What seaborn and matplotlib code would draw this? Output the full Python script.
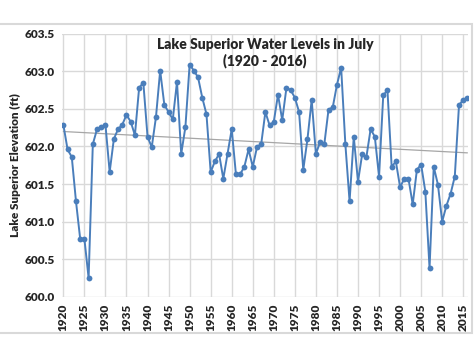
import numpy as np
import pandas as pd
import matplotlib
matplotlib.use("Agg")
import matplotlib.pyplot as plt
from matplotlib.patches import Rectangle
import seaborn as sns

# July water levels
years = list(range(1920, 2017))
levels = [
    602.29, 601.96, 601.86, 601.27, 600.77, 600.77, 600.25, 602.03, 602.23, 602.26,
    602.29, 601.66, 602.10, 602.23, 602.29, 602.42, 602.33, 602.15, 602.78, 602.85,
    602.13, 601.99, 602.39, 603.01, 602.55, 602.46, 602.36, 602.86, 601.90, 602.26,
    603.09, 603.01, 602.92, 602.65, 602.43, 601.66, 601.80, 601.90, 601.57, 601.90,
    602.23, 601.63, 601.63, 601.73, 601.96, 601.73, 601.99, 602.03, 602.46, 602.28,
    602.33, 602.69, 602.35, 602.78, 602.75, 602.65, 602.46, 601.69, 602.10, 602.62,
    601.90, 602.06, 602.03, 602.49, 602.52, 602.82, 603.05, 602.03, 601.27, 602.13,
    601.53, 601.90, 601.86, 602.23, 602.13, 601.60, 602.68, 602.75, 601.73, 601.80,
    601.46, 601.57, 601.57, 601.23, 601.69, 601.76, 601.40, 600.38, 601.73, 601.49,
    601.00, 601.21, 601.37, 601.60, 602.55, 602.62, 602.65,
]
x_ticks = list(range(1920, 2016, 5))
y_ticks = [600.0, 600.5, 601.0, 601.5, 602.0, 602.5, 603.0, 603.5]

df = pd.DataFrame({"Year": years, "Level": levels})

sns.set_style("white")
plt.rcParams["font.family"] = ["Lato", "DejaVu Sans"]

fig = plt.figure(figsize=(4.74, 3.55), dpi=100)
ax = fig.add_axes([0.131, 0.164, 0.856, 0.741])

# chart frame
fig.patches.append(Rectangle((-0.01, 0.062), 1.006, 0.870, transform=fig.transFigure,
                             fill=False, edgecolor="#d9d9d9", linewidth=1.5))

# linear trend line (Excel style)
coef = np.polyfit(df["Year"], df["Level"], 1)
ax.plot(df["Year"], np.polyval(coef, df["Year"]), color="#a6a6a6", linewidth=0.9, zorder=2)

sns.lineplot(data=df, x="Year", y="Level", ax=ax, color="#4a7ebb", linewidth=1.4,
             marker="o", markersize=4.2, markeredgewidth=0, zorder=3)

ax.set_xlim(1919.7, 2016.1)
ax.set_ylim(600.0, 603.5)
ax.set_xticks(x_ticks)
ax.set_yticks(y_ticks)
ax.set_xticklabels([str(t) for t in x_ticks], rotation=90, fontsize=8.5, fontweight="heavy")
ax.set_yticklabels([f"{t:.1f}" for t in y_ticks], fontsize=8.5, fontweight="heavy")
ax.grid(True, color="#d9d9d9", linewidth=1)
ax.tick_params(axis="both", length=3, color="#d9d9d9", pad=2)
for s in ax.spines.values():
    s.set_visible(False)

ax.set_xlabel("")
ax.set_ylabel("Lake Superior Elevation (ft)", fontsize=8.5, fontweight="heavy", labelpad=3)
ax.text(0.5, 0.985, "Lake Superior Water Levels in July\n(1920 - 2016)", transform=ax.transAxes,
        ha="center", va="top", fontsize=10, fontweight="heavy", linespacing=1.25)

fig.savefig("out.png", dpi=100)
